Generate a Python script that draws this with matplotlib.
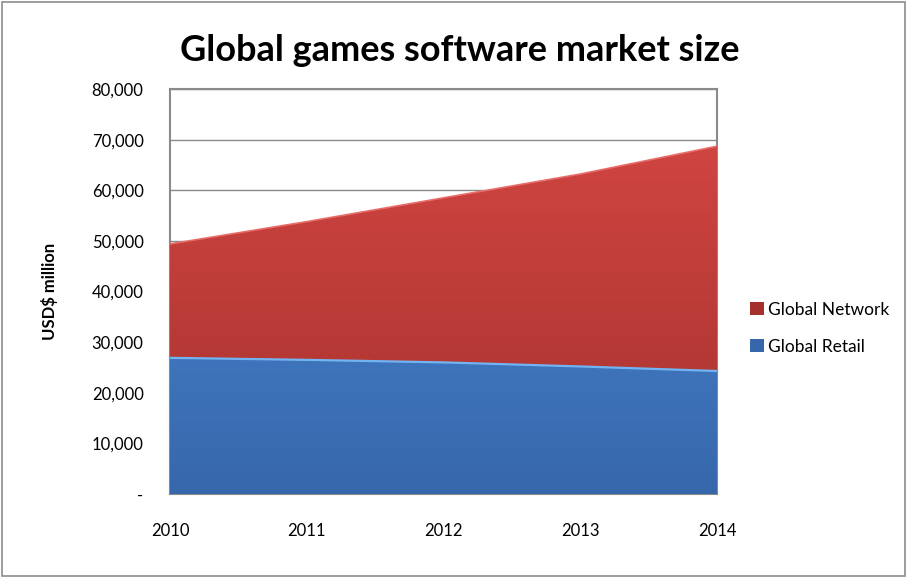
import numpy as np
import matplotlib.pyplot as plt
from matplotlib.patches import Rectangle

# Market size, USD$ million
years = [2010, 2011, 2012, 2013, 2014]
retail = [26900, 26500, 26000, 25200, 24300]
network = [22500, 27300, 32500, 38000, 44400]

plt.rcParams['font.family'] = ['Lato', 'DejaVu Sans']

fig = plt.figure(figsize=(9.07, 5.78), dpi=100)
fig.patches.append(Rectangle((0.002, 0.004), 0.996, 0.993, transform=fig.transFigure,
                             fill=False, edgecolor='#8c8c8c', linewidth=1.2))
ax = fig.add_axes([0.1874, 0.1453, 0.6031, 0.7007])

x = np.array(years, dtype=float)
r = np.array(retail, dtype=float)
total = r + np.array(network, dtype=float)


def gradient_fill(ax, x, y0, y1, top, bottom, label):
    poly = ax.fill_between(x, y0, y1, color=bottom, linewidth=0, label=label, zorder=2)
    grad = np.linspace(0, 1, 256).reshape(-1, 1)
    c_top = np.array(plt.matplotlib.colors.to_rgb(top))
    c_bot = np.array(plt.matplotlib.colors.to_rgb(bottom))
    img = c_top[None, None, :] * (1 - grad[:, :, None]) + c_bot[None, None, :] * grad[:, :, None]
    im = ax.imshow(img, extent=[x.min(), x.max(), 0, 80000], aspect='auto',
                   origin='upper', zorder=3)
    im.set_clip_path(poly.get_paths()[0], transform=ax.transData)
    return poly


gradient_fill(ax, x, 0, r, '#4d8fdc', '#3767ab', 'Global Retail')
gradient_fill(ax, x, r, total, '#d64844', '#a5312e', 'Global Network')
ax.plot(x, r, color='#72b4f2', linewidth=1.6, zorder=4)
ax.plot(x, total, color='#e86c68', linewidth=1.2, zorder=4)

ax.set_xlim(2010, 2014)
ax.set_ylim(0, 80000)
ax.set_xticks(years)
ax.set_xticklabels([str(y) for y in years])
ax.set_yticks(range(0, 80001, 10000))
ax.set_yticklabels(['-'] + [f'{v:,}' for v in range(10000, 80001, 10000)])
ax.tick_params(axis='x', length=0, pad=21, labelsize=12)
ax.tick_params(axis='y', length=0, pad=19, labelsize=12)
ax.grid(axis='y', color='#8a8a8a', linewidth=1, zorder=1)
ax.set_axisbelow(True)
for s in ax.spines.values():
    s.set_color('#8a8a8a')
    s.set_linewidth(1.5)

ax.set_ylabel('USD$ million', fontsize=12, fontweight='bold', labelpad=24)
fig.text(0.507, 0.913, 'Global games software market size', ha='center', va='center',
         fontsize=26, fontweight='bold')

handles, labels = ax.get_legend_handles_labels()
fig.legend(handles[::-1], labels[::-1], loc='center left', bbox_to_anchor=(0.81, 0.432),
           frameon=False, fontsize=12.5, handlelength=0.8, handleheight=0.8,
           handletextpad=0.2, labelspacing=1.2)

fig.savefig('out.png', dpi=100)
